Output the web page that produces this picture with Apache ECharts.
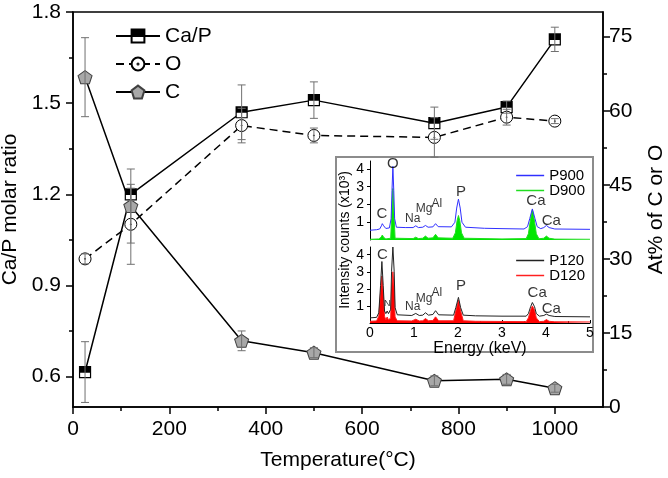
<!DOCTYPE html>
<html><head><meta charset="utf-8">
<script src="https://cdn.jsdelivr.net/npm/echarts@6/dist/echarts.min.js"></script>
<style>html,body{margin:0;padding:0;background:#fff}#c{width:668px;height:478px}</style>
</head><body><div id="c"></div>
<script>
// ---------- main chart data ----------
const temps = [25, 120, 350, 500, 750, 900, 1000];
const caP = [0.615, 1.20, 1.47, 1.51, 1.434, 1.487, 1.71];
const caPErr = [0.10, 0.02, 0.09, 0.06, 0.053, 0.02, 0.04];
const oAt = [30, 37, 57, 55, 54.6, 58.7, 57.9];
const oErr = [1, 8.1, 3.5, 1.5, 4, 1.6, 0.5];
const cAt = [66.8, 40.7, 13.4, 11, 5.3, 5.6, 3.8];
const cErr = [8, 7.5, 2, 1, 1, 1, 0.8];

const leftTicks = [0.6, 0.9, 1.2, 1.5, 1.8];
const leftMinor = [0.75, 1.05, 1.35, 1.65];
const rightTicks = [0, 15, 30, 45, 60, 75];
const rightMinor = [7.5, 22.5, 37.5, 52.5, 67.5];
const xTicks = [0, 200, 400, 600, 800, 1000];
const xMinor = [100, 300, 500, 700, 900];

// ---------- inset (EDS spectra) data: [energy keV, counts x10^3] ----------
const p900 = [[0,0.55],[0.15,0.58],[0.22,0.62],[0.26,0.8],[0.28,0.92],[0.31,0.8],[0.36,0.65],[0.44,0.68],[0.48,1.2],[0.5,2.8],[0.52,4.15],[0.54,2.8],[0.56,1.2],[0.6,0.72],[0.8,0.7],[0.98,0.7],[1.04,0.8],[1.1,0.7],[1.2,0.72],[1.26,0.82],[1.32,0.72],[1.43,0.74],[1.49,0.92],[1.55,0.75],[1.85,0.74],[1.93,1.0],[1.97,1.8],[2.01,2.3],[2.05,1.8],[2.09,1.0],[2.17,0.72],[2.6,0.66],[3.0,0.64],[3.5,0.62],[3.58,0.75],[3.63,1.2],[3.69,1.75],[3.75,1.2],[3.8,0.75],[3.88,0.64],[3.95,0.7],[4.01,0.82],[4.07,0.7],[4.2,0.62],[5,0.6]];
const d900 = [[0,0.04],[0.2,0.06],[0.25,0.15],[0.28,0.28],[0.31,0.15],[0.36,0.06],[0.47,0.1],[0.49,1.2],[0.52,2.9],[0.55,1.2],[0.57,0.1],[0.98,0.08],[1.04,0.16],[1.1,0.08],[1.2,0.1],[1.26,0.22],[1.32,0.1],[1.43,0.12],[1.49,0.32],[1.55,0.12],[1.88,0.1],[1.94,0.4],[1.98,1.1],[2.01,1.38],[2.04,1.1],[2.08,0.4],[2.14,0.1],[3.0,0.06],[3.55,0.08],[3.6,0.35],[3.65,1.2],[3.69,1.7],[3.73,1.2],[3.78,0.35],[3.84,0.07],[3.95,0.1],[4.01,0.22],[4.07,0.1],[4.2,0.05],[5,0.04]];
const p120 = [[0,0.3],[0.15,0.33],[0.2,0.6],[0.24,2.2],[0.27,3.6],[0.3,2.2],[0.33,0.7],[0.36,0.55],[0.39,0.7],[0.42,0.55],[0.47,0.8],[0.49,3.0],[0.52,4.45],[0.55,3.0],[0.57,0.9],[0.62,0.48],[0.95,0.44],[1.04,0.56],[1.12,0.44],[1.2,0.46],[1.26,0.6],[1.33,0.46],[1.43,0.5],[1.49,0.72],[1.56,0.48],[1.9,0.46],[1.95,0.9],[2.01,1.5],[2.06,0.9],[2.12,0.46],[2.4,0.42],[3.0,0.4],[3.55,0.4],[3.6,0.55],[3.65,0.95],[3.69,1.2],[3.74,0.95],[3.78,0.55],[3.85,0.4],[3.95,0.44],[4.01,0.52],[4.07,0.44],[4.2,0.38],[5,0.36]];
const d120 = [[0,0.1],[0.15,0.12],[0.2,0.4],[0.24,1.8],[0.27,2.75],[0.3,1.8],[0.33,0.4],[0.36,0.18],[0.39,0.35],[0.42,0.18],[0.47,0.3],[0.49,2.0],[0.52,3.0],[0.55,2.0],[0.57,0.35],[0.62,0.13],[0.95,0.12],[1.04,0.22],[1.12,0.12],[1.2,0.13],[1.26,0.26],[1.33,0.13],[1.43,0.15],[1.49,0.36],[1.56,0.13],[1.9,0.13],[1.95,0.7],[2.01,1.35],[2.06,0.7],[2.12,0.13],[2.4,0.1],[3.0,0.09],[3.55,0.08],[3.6,0.3],[3.65,0.75],[3.69,1.0],[3.74,0.75],[3.78,0.3],[3.85,0.08],[3.95,0.1],[4.01,0.2],[4.07,0.1],[4.2,0.07],[5,0.06]];
const peaks900 = [['C',0.27,1.45],['O',0.52,4.3],['Na',0.97,1.2],['Mg',1.23,1.75],['Al',1.52,2.05],['P',2.07,2.7],['Ca',3.77,2.2],['Ca',4.12,1.1]];
const peaks120 = [['C',0.28,4.0],['N',0.39,1.15],['O',0.52,4.6],['Na',0.97,0.95],['Mg',1.23,1.45],['Al',1.52,1.75],['P',2.07,2.2],['Ca',3.8,1.75],['Ca',4.12,0.8]];
const inYTicks = [1, 2, 3, 4];

// ---------- styling ----------
const FONT = '"Liberation Sans", Arial, sans-serif';
const BLACK = '#000';
const FS = 21;
const caPath = 'path://M0,0H10V10H0Z M0,0.5H10 M0,1H10 M0,1.5H10 M0,2H10 M0,2.5H10 M0,3H10 M0,3.5H10 M0,4H10 M0,4.5H10 M0,5H10';
const oPath = 'path://M0,10A10,10 0 1,1 20,10A10,10 0 1,1 0,10Z M9.2,10A0.8,0.8 0 1,1 10.8,10A0.8,0.8 0 1,1 9.2,10Z';
const pentPath = 'path://M10,0L19.51,6.91L15.88,18.09L4.12,18.09L0.49,6.91Z';

const chart = echarts.init(document.getElementById('c'), null, {renderer: 'canvas'});

function errSeries(name, yIdx, vals, errs) {
  return {
    type: 'custom', name: name, xAxisIndex: 0, yAxisIndex: yIdx, z: 4,
    data: temps.map((t, i) => [t, vals[i] - errs[i], vals[i] + errs[i]]),
    encode: {x: 0, y: [1, 2]},
    renderItem: function (params, api) {
      const x = api.value(0);
      const p1 = api.coord([x, api.value(2)]);
      const p2 = api.coord([x, api.value(1)]);
      const w = 4, st = {stroke: '#707070', lineWidth: 1};
      return {type: 'group', children: [
        {type: 'line', shape: {x1: p1[0], y1: p1[1], x2: p2[0], y2: p2[1]}, style: st},
        {type: 'line', shape: {x1: p1[0] - w, y1: p1[1], x2: p1[0] + w, y2: p1[1]}, style: st},
        {type: 'line', shape: {x1: p2[0] - w, y1: p2[1], x2: p2[0] + w, y2: p2[1]}, style: st}
      ]};
    }
  };
}

function peakSeries(list, xi, yi) {
  return {
    type: 'scatter', xAxisIndex: xi, yAxisIndex: yi, z: 6, symbolSize: 1,
    itemStyle: {color: 'rgba(0,0,0,0)'}, silent: true,
    data: list.map(p => ({
      name: p[0], value: [p[1], p[2]],
      label: {fontSize: p[0] === 'N' ? 9 : (['Na', 'Mg', 'Al'].includes(p[0]) ? 12 : 15)}
    })),
    label: {show: true, position: 'inside', formatter: '{b}', color: BLACK, fontFamily: FONT}
  };
}

const mainAxisLine = {show: true, lineStyle: {color: BLACK, width: 1.5}};
const insetAxisLine = {show: true, lineStyle: {color: BLACK, width: 1}};

const option = {
  animation: false,
  backgroundColor: '#fff',
  textStyle: {fontFamily: FONT},
  grid: [
    {left: 73, top: 12, right: 65, bottom: 71, outerBoundsMode: 'none', containLabel: false,
     show: true, borderColor: BLACK, borderWidth: 1.5, backgroundColor: 'transparent'},
    {left: 370, top: 161, right: 78, bottom: 238, outerBoundsMode: 'none', containLabel: false},
    {left: 370, top: 247, right: 78, bottom: 155, outerBoundsMode: 'none', containLabel: false},
    {left: 73, top: 12, right: 65, bottom: 71, outerBoundsMode: 'none', containLabel: false}
  ],
  graphic: [
    {type: 'rect', z: 1, shape: {x: 336, y: 157, width: 257, height: 195},
     style: {fill: '#fff', stroke: '#8c8c8c', lineWidth: 2}},
    {type: 'text', z: 7, x: 345, y: 240, rotation: Math.PI / 2,
     style: {text: 'Intensity counts (x10³)', font: '14px ' + FONT, fill: BLACK, align: 'center', verticalAlign: 'middle'}}
  ],
  legend: [
    {data: ['Ca/P', 'O', 'C'], left: 110, top: 20, orient: 'vertical', itemWidth: 44, itemHeight: 16, itemGap: 6,
     textStyle: {fontSize: FS, lineHeight: 22, color: BLACK, fontFamily: FONT}},
    {data: ['P900', 'D900'], right: 78, top: 163, orient: 'vertical', align: 'left', icon: 'rect', itemWidth: 28, itemHeight: 1.5, itemGap: 0, z: 6,
     textStyle: {fontSize: 15, lineHeight: 15, color: BLACK, fontFamily: FONT}},
    {data: ['P120', 'D120'], right: 78, top: 248, orient: 'vertical', align: 'left', icon: 'rect', itemWidth: 28, itemHeight: 1.5, itemGap: 0, z: 6,
     textStyle: {fontSize: 15, lineHeight: 15, color: BLACK, fontFamily: FONT}}
  ],
  xAxis: [
    {gridIndex: 0, type: 'value', position: 'bottom', min: 0, max: 1100,
     axisLine: mainAxisLine,
     axisTick: {show: true, customValues: xTicks, length: 7, lineStyle: {color: BLACK, width: 1.5}},
     axisLabel: {customValues: xTicks, formatter: v => String(v), fontSize: FS, color: BLACK, margin: 12, fontFamily: FONT},
     splitLine: {show: false},
     name: 'Temperature(°C)', nameLocation: 'middle', nameGap: 43,
     nameTextStyle: {fontSize: FS, color: BLACK, fontFamily: FONT}},
    {gridIndex: 1, type: 'value', min: 0, max: 5, show: false},
    {gridIndex: 2, type: 'value', min: 0, max: 5, interval: 1, z: 3,
     axisLine: insetAxisLine,
     axisTick: {show: true, inside: true, length: 3, lineStyle: {color: BLACK}},
     minorTick: {show: true, splitNumber: 2, length: 2, lineStyle: {color: BLACK}},
     axisLabel: {fontSize: 14, color: BLACK, margin: 3, fontFamily: FONT},
     splitLine: {show: false},
     name: 'Energy (keV)', nameLocation: 'middle', nameGap: 17,
     nameTextStyle: {fontSize: 16, color: BLACK, fontFamily: FONT}},
    {gridIndex: 3, type: 'value', position: 'bottom', min: 0, max: 1100,
     axisLine: {show: false}, axisLabel: {show: false}, splitLine: {show: false},
     axisTick: {show: true, customValues: xMinor, length: 4, lineStyle: {color: BLACK, width: 1.5}}}
  ],
  yAxis: [
    {gridIndex: 0, type: 'value', position: 'left', min: 0.5, max: 1.8,
     axisLine: mainAxisLine,
     axisTick: {show: true, customValues: leftTicks, length: 7, lineStyle: {color: BLACK, width: 1.5}},
     axisLabel: {customValues: leftTicks, formatter: v => v.toFixed(1), fontSize: FS, color: BLACK, margin: 12, fontFamily: FONT},
     splitLine: {show: false},
     name: 'Ca/P molar ratio', nameLocation: 'middle', nameGap: 43, nameRotate: 90,
     nameTextStyle: {fontSize: FS, color: BLACK, fontFamily: FONT}},
    {gridIndex: 0, type: 'value', position: 'right', min: 0, max: 80,
     axisLine: mainAxisLine,
     axisTick: {show: true, customValues: rightTicks, length: 7, lineStyle: {color: BLACK, width: 1.5}},
     axisLabel: {customValues: rightTicks, fontSize: FS, color: BLACK, margin: 6, fontFamily: FONT},
     splitLine: {show: false},
     name: 'At% of C or O', nameLocation: 'middle', nameGap: 43, nameRotate: 90,
     nameTextStyle: {fontSize: FS, color: BLACK, fontFamily: FONT}},
    {gridIndex: 1, type: 'value', min: 0, max: 4.45, z: 3,
     axisLine: insetAxisLine,
     axisTick: {show: true, customValues: inYTicks, length: 3, lineStyle: {color: BLACK}},
     axisLabel: {customValues: inYTicks, fontSize: 14, color: BLACK, margin: 6, fontFamily: FONT},
     splitLine: {show: false}},
    {gridIndex: 2, type: 'value', min: 0, max: 4.45, z: 3,
     axisLine: insetAxisLine,
     axisTick: {show: true, customValues: inYTicks, length: 3, lineStyle: {color: BLACK}},
     axisLabel: {customValues: inYTicks, fontSize: 14, color: BLACK, margin: 6, fontFamily: FONT},
     splitLine: {show: false}},
    {gridIndex: 3, type: 'value', position: 'left', min: 0.5, max: 1.8,
     axisLine: {show: false}, axisLabel: {show: false}, splitLine: {show: false},
     axisTick: {show: true, customValues: leftMinor, length: 4, lineStyle: {color: BLACK, width: 1.5}}},
    {gridIndex: 3, type: 'value', position: 'right', min: 0, max: 80,
     axisLine: {show: false}, axisLabel: {show: false}, splitLine: {show: false},
     axisTick: {show: true, customValues: rightMinor, length: 4, lineStyle: {color: BLACK, width: 1.5}}}
  ],
  series: [
    {name: 'Ca/P', type: 'line', xAxisIndex: 0, yAxisIndex: 0, z: 3,
     data: temps.map((t, i) => [t, caP[i]]),
     symbol: caPath, symbolSize: 11, showAllSymbol: true,
     lineStyle: {color: BLACK, width: 1.5},
     itemStyle: {color: '#fff', borderColor: BLACK, borderWidth: 1.2}},
    {name: 'O', type: 'line', xAxisIndex: 0, yAxisIndex: 1, z: 3,
     data: temps.map((t, i) => [t, oAt[i]]),
     symbol: oPath, symbolSize: 12,
     lineStyle: {color: BLACK, width: 1.5, type: [8, 5]},
     itemStyle: {color: '#fff', borderColor: BLACK, borderWidth: 1}},
    {name: 'C', type: 'line', xAxisIndex: 0, yAxisIndex: 1, z: 3,
     data: temps.map((t, i) => [t, cAt[i]]),
     symbol: pentPath, symbolSize: [14, 13],
     lineStyle: {color: BLACK, width: 1.5},
     itemStyle: {color: '#a8a8a8', borderColor: '#404040', borderWidth: 1}},
    errSeries('errCaP', 0, caP, caPErr),
    errSeries('errO', 1, oAt, oErr),
    errSeries('errC', 1, cAt, cErr),
    {name: 'D900', type: 'line', xAxisIndex: 1, yAxisIndex: 2, z: 5, data: d900, symbol: 'none',
     lineStyle: {color: '#20dd20', width: 1}, itemStyle: {color: '#20dd20'},
     areaStyle: {color: '#00e600', opacity: 1}},
    {name: 'P900', type: 'line', xAxisIndex: 1, yAxisIndex: 2, z: 5, data: p900, symbol: 'none',
     lineStyle: {color: '#3030ff', width: 1}, itemStyle: {color: '#3030ff'}},
    {name: 'D120', type: 'line', xAxisIndex: 2, yAxisIndex: 3, z: 5, data: d120, symbol: 'none',
     lineStyle: {color: '#ff2020', width: 1}, itemStyle: {color: '#ff2020'},
     areaStyle: {color: '#ff0000', opacity: 1}},
    {name: 'P120', type: 'line', xAxisIndex: 2, yAxisIndex: 3, z: 5, data: p120, symbol: 'none',
     lineStyle: {color: '#222', width: 1}, itemStyle: {color: '#222'}},
    peakSeries(peaks900, 1, 2),
    peakSeries(peaks120, 2, 3)
  ]
};
chart.setOption(option);
</script>
</body></html>
